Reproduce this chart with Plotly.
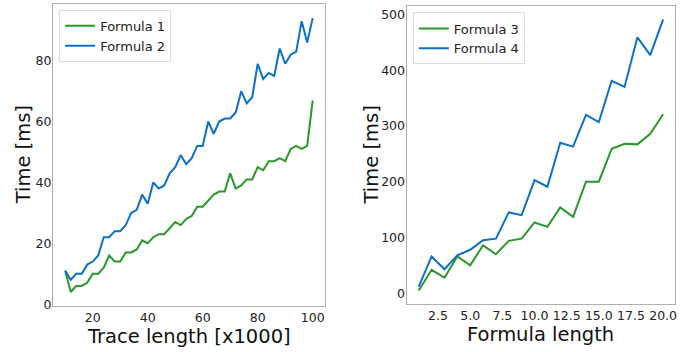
import plotly.graph_objects as go

# ---- data ----
trace_len = list(range(10, 101, 2))
formula1 = [11, 4, 6, 6, 7, 10, 10, 12, 16, 14, 14, 17, 17, 18, 21, 20, 22, 23, 23, 25,
            27, 26, 28, 29, 32, 32, 34, 36, 37, 37, 43, 38, 39, 41, 41, 45, 44, 47, 47, 48,
            47, 51, 52, 51, 52, 67]
formula2 = [11, 8, 10, 10, 13, 14, 16, 22, 22, 24, 24, 26, 30, 31, 36, 33, 40, 38, 39, 43,
            45, 49, 46, 48, 52, 52, 60, 56, 60, 61, 61, 63, 70, 66, 68, 79, 74, 76, 75, 84,
            79, 82, 83, 93, 86, 94]

formula_len = list(range(1, 21))
formula3 = [5, 42, 28, 66, 50, 86, 70, 94, 98, 127, 119, 154, 137, 200, 200, 259, 268, 267, 286, 321]
formula4 = [12, 66, 43, 68, 78, 95, 98, 145, 140, 203, 191, 270, 263, 320, 307, 381, 370, 459, 427, 491]

GREEN = "#2a972a"
BLUE = "#0b6fcc"
FONT = "DejaVu Sans"
W, H = 697, 352

fig = go.Figure()
fig.add_trace(go.Scatter(x=trace_len, y=formula1, mode="lines", name="Formula 1",
                         line=dict(color=GREEN, width=2), xaxis="x", yaxis="y", legend="legend"))
fig.add_trace(go.Scatter(x=trace_len, y=formula2, mode="lines", name="Formula 2",
                         line=dict(color=BLUE, width=2), xaxis="x", yaxis="y", legend="legend"))
fig.add_trace(go.Scatter(x=formula_len, y=formula3, mode="lines", name="Formula 3",
                         line=dict(color=GREEN, width=2), xaxis="x2", yaxis="y2", legend="legend2"))
fig.add_trace(go.Scatter(x=formula_len, y=formula4, mode="lines", name="Formula 4",
                         line=dict(color=BLUE, width=2), xaxis="x2", yaxis="y2", legend="legend2"))

axis_common = dict(showline=True, mirror=True, linecolor="#b0b0b0", linewidth=1,
                   showgrid=False, zeroline=False, ticks="",
                   tickfont=dict(family=FONT, size=12.5, color="#222222"))

legend_common = dict(bgcolor="rgba(255,255,255,0.8)", bordercolor="#dddddd", borderwidth=1,
                     font=dict(family=FONT, size=13, color="#222222"),
                     xanchor="left", yanchor="top", itemwidth=30, tracegroupgap=0)

fig.update_layout(
    width=W, height=H,
    margin=dict(l=0, r=0, t=0, b=0),
    paper_bgcolor="white", plot_bgcolor="white",
    showlegend=True,
    xaxis=dict(domain=[53 / W, 326 / W], range=[5.5, 104.5], anchor="y",
               tickvals=[20, 40, 60, 80, 100], **axis_common),
    yaxis=dict(domain=[1 - 311 / H, 1 - 4.5 / H], range=[-0.5, 98.5], anchor="x",
               tickvals=[0, 20, 40, 60, 80], ticklabelstandoff=-2, **axis_common),
    xaxis2=dict(domain=[407.7 / W, 677.3 / W], range=[0.05, 20.95], anchor="y2",
                tickvals=[2.5, 5, 7.5, 10, 12.5, 15, 17.5, 20], tickformat=".1f", **axis_common),
    yaxis2=dict(domain=[1 - 309.3 / H, 1 - 6 / H], range=[-19.3, 515.3], anchor="x2",
                tickvals=[0, 100, 200, 300, 400, 500], ticklabelstandoff=-2, **axis_common),
    legend=dict(x=59.3 / W, y=1 - 10 / H, **legend_common),
    legend2=dict(x=414 / W, y=1 - 12.7 / H, **legend_common),
)

title_font = dict(family=FONT, size=19.5, color="#111111")
annos = [
    dict(text="Trace length [x1000]", x=189.5 / W, y=1 - 342 / H),
    dict(text="Time [ms]", x=23.3 / W, y=1 - 157.8 / H, textangle=-90),
    dict(text="Formula length", x=542.5 / W, y=1 - 340.5 / H),
    dict(text="Time [ms]", x=372.5 / W, y=1 - 157.7 / H, textangle=-90),
]
for a in annos:
    fig.add_annotation(xref="paper", yref="paper", showarrow=False,
                       xanchor="center", yanchor="middle", font=title_font, **a)

fig.write_html("out.html")
